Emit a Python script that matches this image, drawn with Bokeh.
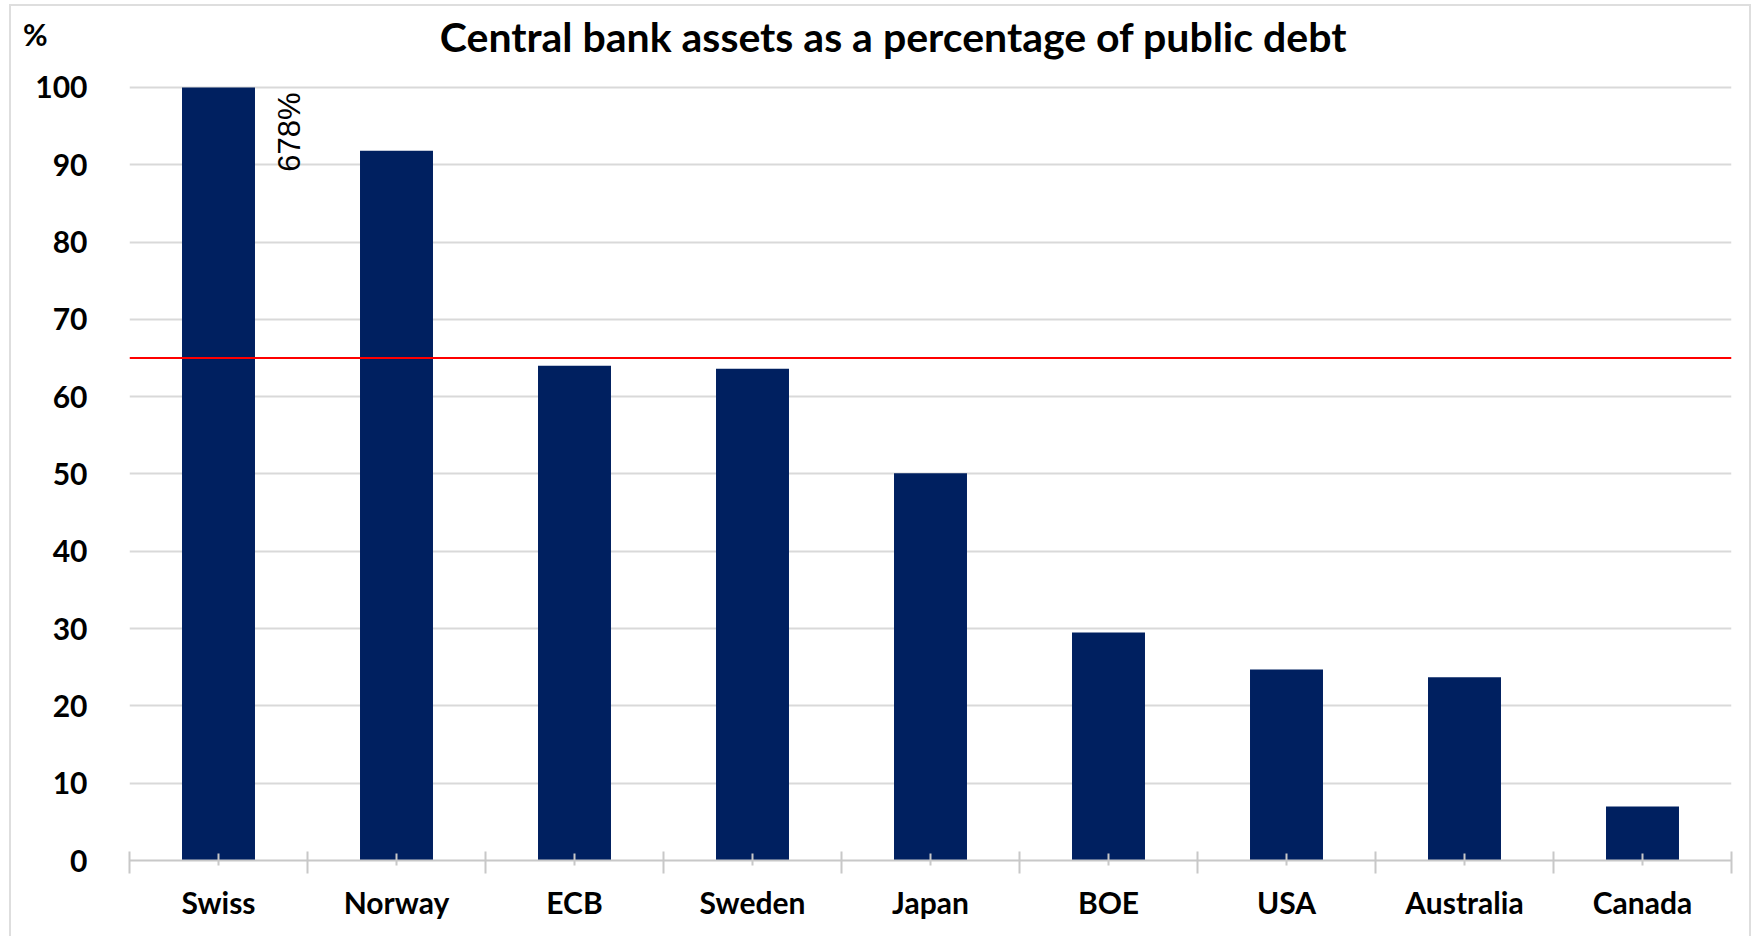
import numpy as np
from bokeh.plotting import figure
from bokeh.models import Label, Span, FixedTicker, Range1d, LinearAxis
from bokeh.embed import file_html
from bokeh.resources import INLINE

categories = ["Swiss", "Norway", "ECB", "Sweden", "Japan", "BOE", "USA", "Australia", "Canada"]
values = [678, 91.8, 64.0, 63.6, 50.1, 29.5, 24.7, 23.7, 7.0]
y_ticks = [0, 10, 20, 30, 40, 50, 60, 70, 80, 90, 100]
threshold = 65
title_text = "Central bank assets as a percentage of public debt"
unit_text = "%"

y_max = 100
y_top = y_max + 9.3          # headroom above the axis top for the title row
unit_y = y_max + 6.9         # vertical position of the "%" unit marker
shown = [min(v, y_max) for v in values]
centers = list(np.arange(len(categories)) + 0.5)
bounds = list(np.arange(len(categories) + 1).astype(float))

FONT = "Lato"
BAR = "#002060"

p = figure(width=1742, height=932, output_backend="svg", toolbar_location=None,
           x_range=Range1d(0, len(categories)), y_range=Range1d(0, y_top),
           min_border_left=118, min_border_right=22, min_border_top=9, min_border_bottom=78)
p.styles = {"margin-left": "9px", "margin-top": "4px",
            "border-left": "2px solid #dedede", "border-top": "2px solid #dedede",
            "border-right": "2px solid #dedede"}
p.outline_line_color = None
p.background_fill_color = "white"
p.border_fill_color = "white"

p.vbar(x=centers, top=shown, width=0.41, bottom=0, fill_color=BAR, line_color=None)

# grid
p.xgrid.visible = False
p.ygrid.ticker = FixedTicker(ticks=y_ticks[1:])
p.ygrid.grid_line_color = "#d9d9d9"
p.ygrid.grid_line_width = 2

# y axis
p.yaxis.ticker = FixedTicker(ticks=y_ticks)
p.yaxis.axis_line_color = None
p.yaxis.major_tick_line_color = None
p.yaxis.minor_tick_line_color = None
p.yaxis.major_label_text_font = FONT
p.yaxis.major_label_text_font_style = "bold"
p.yaxis.major_label_text_font_size = "30px"
p.yaxis.major_label_text_color = "#000000"
p.yaxis.major_label_standoff = 36

# unit marker "%" as a second left axis label
unit_axis = LinearAxis(ticker=FixedTicker(ticks=[unit_y]),
                       major_label_overrides={unit_y: unit_text},
                       axis_line_color=None, major_tick_line_color=None,
                       minor_tick_line_color=None, major_label_standoff=-21,
                       major_label_text_font=FONT, major_label_text_font_style="bold",
                       major_label_text_font_size="30px", major_label_text_color="#000000")
p.add_layout(unit_axis, "left")

# x axis
p.xaxis.ticker = FixedTicker(ticks=centers, minor_ticks=bounds)
p.xaxis.major_label_overrides = {float(c): name for c, name in zip(centers, categories)}
p.xaxis.axis_line_color = "#c8c8c8"
p.xaxis.axis_line_width = 2
p.xaxis.major_tick_line_color = "#c8c8c8"
p.xaxis.major_tick_line_width = 2
p.xaxis.major_tick_in = 7
p.xaxis.major_tick_out = 5
p.xaxis.minor_tick_line_color = "#c8c8c8"
p.xaxis.minor_tick_line_width = 2
p.xaxis.minor_tick_in = 9
p.xaxis.minor_tick_out = 13
p.xaxis.major_label_text_font = FONT
p.xaxis.major_label_text_font_style = "bold"
p.xaxis.major_label_text_font_size = "30px"
p.xaxis.major_label_text_color = "#000000"
p.xaxis.major_label_standoff = 10

# threshold line
p.add_layout(Span(location=threshold, dimension="width", line_color="#ff0000", line_width=2))

# annotation for clipped bar
p.add_layout(Label(x=centers[0] + 0.205, y=y_max, x_offset=17, y_offset=-5,
                   text=f"{values[0]:g}%", angle=np.pi / 2,
                   text_align="right", text_baseline="top",
                   text_font="Liberation Sans", text_font_size="31px", text_color="#000000"))

# title
p.add_layout(Label(x=len(categories) / 2, y=y_max, x_offset=-37, y_offset=51,
                   text=title_text, text_align="center", text_baseline="middle",
                   text_font=FONT, text_font_style="bold", text_font_size="41px",
                   text_color="#000000"))

open("out.html", "w").write(file_html(p, INLINE))
